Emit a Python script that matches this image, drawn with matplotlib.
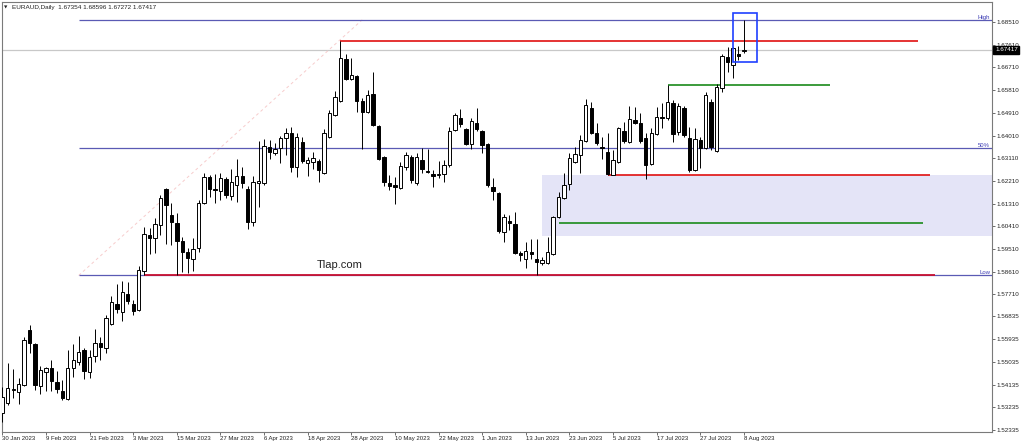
import matplotlib
matplotlib.use('Agg')
import matplotlib.pyplot as plt
import matplotlib.transforms as mtransforms
from matplotlib.patches import Rectangle
import numpy as np

plt.rcParams['font.family'] = ['Liberation Sans', 'DejaVu Sans']

# ---------------- data (EURAUD daily, 30 Jan 2023 .. 8 Aug 2023) ----------------
opens = [1.5301, 1.5340, 1.5392, 1.5384, 1.5412, 1.5630, 1.5574, 1.5408, 1.5463, 1.5479,
         1.5424, 1.5388, 1.5356, 1.5479, 1.5503, 1.5551, 1.5463, 1.5527, 1.5578, 1.5559,
         1.5654, 1.5733, 1.5701, 1.5773, 1.5733, 1.5709, 1.5864, 1.6006, 1.5995, 1.6046,
         1.6189, 1.6086, 1.6054, 1.5983, 1.5939, 1.5911, 1.5955, 1.6133, 1.6236, 1.6189,
         1.6181, 1.6228, 1.6161, 1.6205, 1.6240, 1.6189, 1.6058, 1.6213, 1.6213, 1.6355,
         1.6332, 1.6351, 1.6391, 1.6411, 1.6276, 1.6375, 1.6292, 1.6296, 1.6300, 1.6252,
         1.6395, 1.6482, 1.6538, 1.6704, 1.6625, 1.6637, 1.6538, 1.6494, 1.6565, 1.6439,
         1.6316, 1.6213, 1.6205, 1.6193, 1.6276, 1.6316, 1.6213, 1.6304, 1.6260, 1.6248,
         1.6244, 1.6248, 1.6284, 1.6423, 1.6470, 1.6427, 1.6367, 1.6450, 1.6419, 1.6367,
         1.6197, 1.6173, 1.6018, 1.6062, 1.6050, 1.5935, 1.5911, 1.5939, 1.5911, 1.5895,
         1.5895, 1.5931, 1.6078, 1.6153, 1.6209, 1.6296, 1.6324, 1.6379, 1.6510, 1.6411,
         1.6355, 1.6336, 1.6244, 1.6296, 1.6419, 1.6375, 1.6462, 1.6450, 1.6391, 1.6288,
         1.6407, 1.6474, 1.6470, 1.6530, 1.6415, 1.6510, 1.6391, 1.6264, 1.6383, 1.6351,
         1.6534, 1.6340, 1.6589, 1.6712, 1.6680, 1.6724, 1.67354]
highs = [1.5404, 1.5499, 1.5475, 1.5439, 1.5602, 1.5650, 1.5578, 1.5487, 1.5483, 1.5511,
         1.5467, 1.5432, 1.5551, 1.5574, 1.5606, 1.5559, 1.5551, 1.5634, 1.5602, 1.5689,
         1.5765, 1.5812, 1.5824, 1.5820, 1.5749, 1.5884, 1.6038, 1.6034, 1.6074, 1.6165,
         1.6193, 1.6133, 1.6094, 1.5999, 1.5955, 1.5995, 1.6145, 1.6252, 1.6244, 1.6248,
         1.6252, 1.6236, 1.6268, 1.6308, 1.6276, 1.6201, 1.6240, 1.6379, 1.6387, 1.6383,
         1.6371, 1.6399, 1.6431, 1.6435, 1.6411, 1.6395, 1.6316, 1.6336, 1.6308, 1.6427,
         1.6502, 1.6577, 1.6776, 1.6724, 1.6708, 1.6641, 1.6550, 1.6581, 1.6653, 1.6443,
         1.6320, 1.6244, 1.6236, 1.6296, 1.6336, 1.6324, 1.6332, 1.6351, 1.6347, 1.6264,
         1.6300, 1.6304, 1.6435, 1.6490, 1.6506, 1.6431, 1.6470, 1.6510, 1.6423, 1.6371,
         1.6232, 1.6177, 1.6090, 1.6086, 1.6098, 1.5943, 1.5979, 1.5991, 1.5991, 1.5919,
         1.5999, 1.6082, 1.6177, 1.6252, 1.6332, 1.6355, 1.6403, 1.6546, 1.6534, 1.6450,
         1.6395, 1.6411, 1.6343, 1.6435, 1.6454, 1.6518, 1.6514, 1.6490, 1.6411, 1.6431,
         1.6514, 1.6530, 1.6601, 1.6542, 1.6530, 1.6518, 1.6435, 1.6431, 1.6395, 1.6573,
         1.6546, 1.6605, 1.6724, 1.6752, 1.6752, 1.6756, 1.68596]
lows = [1.5265, 1.5332, 1.5360, 1.5336, 1.5408, 1.5539, 1.5392, 1.5376, 1.5388, 1.5388,
        1.5380, 1.5352, 1.5352, 1.5444, 1.5491, 1.5436, 1.5440, 1.5503, 1.5511, 1.5539,
        1.5650, 1.5697, 1.5666, 1.5733, 1.5689, 1.5705, 1.5846, 1.5931, 1.5935, 1.6006,
        1.5971, 1.5967, 1.5848, 1.5860, 1.5856, 1.5864, 1.5939, 1.6129, 1.6157, 1.6133,
        1.6145, 1.6153, 1.6145, 1.6137, 1.6193, 1.6030, 1.6042, 1.6117, 1.6205, 1.6308,
        1.6324, 1.6292, 1.6324, 1.6256, 1.6236, 1.6292, 1.6240, 1.6268, 1.6217, 1.6248,
        1.6391, 1.6478, 1.6534, 1.6621, 1.6621, 1.6494, 1.6347, 1.6490, 1.6439, 1.6304,
        1.6201, 1.6185, 1.6129, 1.6189, 1.6264, 1.6213, 1.6205, 1.6252, 1.6252, 1.6197,
        1.6232, 1.6217, 1.6276, 1.6419, 1.6435, 1.6363, 1.6347, 1.6419, 1.6332, 1.6197,
        1.6145, 1.6014, 1.5979, 1.6026, 1.5931, 1.5903, 1.5876, 1.5911, 1.5846, 1.5888,
        1.5891, 1.5927, 1.6074, 1.6149, 1.6185, 1.6292, 1.6252, 1.6375, 1.6407, 1.6363,
        1.6308, 1.6244, 1.6244, 1.6292, 1.6371, 1.6371, 1.6446, 1.6371, 1.6228, 1.6284,
        1.6403, 1.6431, 1.6462, 1.6375, 1.6403, 1.6395, 1.6256, 1.6260, 1.6272, 1.6347,
        1.6343, 1.6336, 1.6573, 1.6653, 1.6629, 1.6700, 1.67272]
closes = [1.5364, 1.5400, 1.5396, 1.5416, 1.5590, 1.5578, 1.5412, 1.5471, 1.5479, 1.5428,
          1.5396, 1.5360, 1.5479, 1.5511, 1.5543, 1.5467, 1.5523, 1.5578, 1.5563, 1.5677,
          1.5741, 1.5713, 1.5781, 1.5745, 1.5705, 1.5868, 1.6010, 1.5995, 1.6050, 1.6153,
          1.6125, 1.6058, 1.5983, 1.5939, 1.5915, 1.5951, 1.6133, 1.6236, 1.6189, 1.6185,
          1.6232, 1.6165, 1.6217, 1.6240, 1.6213, 1.6058, 1.6217, 1.6221, 1.6359, 1.6336,
          1.6347, 1.6391, 1.6411, 1.6276, 1.6395, 1.6300, 1.6304, 1.6312, 1.6264, 1.6411,
          1.6490, 1.6553, 1.6708, 1.6625, 1.6641, 1.6538, 1.6494, 1.6561, 1.6443, 1.6308,
          1.6217, 1.6201, 1.6197, 1.6280, 1.6324, 1.6225, 1.6316, 1.6268, 1.6256, 1.6240,
          1.6248, 1.6284, 1.6419, 1.6482, 1.6446, 1.6367, 1.6458, 1.6427, 1.6363, 1.6205,
          1.6181, 1.6022, 1.6078, 1.6054, 1.5935, 1.5927, 1.5943, 1.5931, 1.5899, 1.5907,
          1.5939, 1.6078, 1.6157, 1.6205, 1.6312, 1.6328, 1.6383, 1.6522, 1.6411, 1.6371,
          1.6351, 1.6248, 1.6304, 1.6431, 1.6379, 1.6466, 1.6450, 1.6379, 1.6284, 1.6411,
          1.6474, 1.6470, 1.6534, 1.6407, 1.6518, 1.6403, 1.6264, 1.6387, 1.6351, 1.6561,
          1.6355, 1.6593, 1.6716, 1.6692, 1.6748, 1.6716, 1.67417]

date_labels = ['30 Jan 2023', '9 Feb 2023', '21 Feb 2023', '3 Mar 2023', '15 Mar 2023',
               '27 Mar 2023', '6 Apr 2023', '18 Apr 2023', '28 Apr 2023', '10 May 2023',
               '22 May 2023', '1 Jun 2023', '13 Jun 2023', '23 Jun 2023', '5 Jul 2023',
               '17 Jul 2023', '27 Jul 2023', '8 Aug 2023']
price_ticks = [1.68510, 1.67610, 1.66710, 1.65810, 1.64910, 1.64010, 1.63110, 1.62210,
               1.61310, 1.60410, 1.59510, 1.58610, 1.57710, 1.56835, 1.55935, 1.55035,
               1.54135, 1.53235, 1.52335]
price_tick_labels = ['1.68510', '1.67610', '1.66710', '1.65810', '1.64910', '1.64010',
                     '1.63110', '1.62210', '1.61310', '1.60410', '1.59510', '1.58610',
                     '1.57710', '1.56835', '1.55935', '1.55035', '1.54135', '1.53235',
                     '1.52335']

# levels drawn on the chart
fib_high = 1.68596
fib_low = 1.5846
resist_high = 1.6776
support_red = 1.6244
green_upper = 1.6601
green_lower = 1.6054
zone_top = 1.6244
zone_bottom = 1.6003
box_top = 1.6885
box_bottom = 1.6691
last_price = 1.67417

# ---------------- figure ----------------
W, H = 1024, 446
fig = plt.figure(figsize=(W / 100, H / 100), dpi=100)
fig.patch.set_facecolor('white')
ax = fig.add_axes([2 / W, 14 / H, 990 / W, 430 / H])
ax.set_facecolor('white')

n = len(opens)
x = np.arange(n)
o = np.array(opens); h = np.array(highs); l = np.array(lows); c = np.array(closes)
XMAX = 181.5
ax.set_xlim(-0.06, XMAX)
ax.set_ylim(1.52255, 1.69303)

# demand zone
ax.add_patch(Rectangle((99.0, zone_bottom), XMAX - 99.0, zone_top - zone_bottom,
                       facecolor='#e4e4f7', edgecolor='none', zorder=0.5))

# current price line
ax.axhline(last_price, color='#c8c8c8', lw=0.9, zorder=1)

# fibonacci
fib_start = 14
fib_mid = (fib_high + fib_low) / 2
fib_col = '#5a5ab4'
for lv in (fib_high, fib_mid, fib_low):
    ax.hlines(lv, fib_start, XMAX, color=fib_col, lw=0.9, zorder=1.2)
ax.plot([fib_start, 66], [fib_low, fib_high], color='#f7cccc', lw=0.7,
        ls=(0, (3, 3)), zorder=1.1)
trans_r = mtransforms.blended_transform_factory(ax.transAxes, ax.transData)
for lv, txt in ((fib_high, 'High'), (fib_mid, '50%'), (fib_low, 'Low')):
    ax.text(0.998, lv, txt, transform=trans_r, ha='right', va='bottom',
            fontsize=4.3, color='#3c3cb4', zorder=6)

# horizontal levels
ax.hlines(resist_high, 62, 167.9, color='#e01010', lw=1.2, zorder=2)
ax.hlines(support_red, 111, 170.1, color='#e01010', lw=1.2, zorder=2)
ax.hlines(fib_low, 26, 171.0, color='#c81030', lw=1.3, zorder=2)
ax.hlines(green_upper, 122, 151.8, color='#1a8a1a', lw=1.2, zorder=2)
ax.hlines(green_lower, 102, 168.8, color='#1a8a1a', lw=1.2, zorder=2)

# candles
up = c >= o
ax.vlines(x, l, h, color='black', lw=0.7, zorder=3)
body_bottom = np.minimum(o, c)
body_h = np.abs(c - o)
ax.bar(x[up], body_h[up], bottom=body_bottom[up], width=0.62, color='white',
       edgecolor='black', linewidth=0.7, zorder=4)
ax.bar(x[~up], body_h[~up], bottom=body_bottom[~up], width=0.62, color='black',
       edgecolor='black', linewidth=0.7, zorder=4)

# highlight box on last candles
ax.add_patch(Rectangle((134.0, box_bottom), 4.4, box_top - box_bottom, fill=False,
                       edgecolor='#1f3fff', lw=1.2, zorder=5))

# watermark text
ax.text(61.9, 1.5888, 'Tlap.com', fontsize=8, ha='center', va='center',
        color='#222222', zorder=6)

# axes styling
for sp in ax.spines.values():
    sp.set_color('#7a7a7a')
    sp.set_linewidth(0.8)
ax.yaxis.tick_right()
ax.set_yticks(price_ticks)
ax.set_yticklabels(price_tick_labels)
ax.tick_params(axis='y', length=2, width=0.6, pad=1.5, labelsize=4.5,
               color='#555555', labelcolor='#222222')
ax.set_xticks(np.arange(0, n, 8))
ax.set_xticklabels(date_labels)
ax.tick_params(axis='x', length=2, width=0.6, pad=1.2, labelsize=4.3,
               color='#555555', labelcolor='#222222')
for lab in ax.get_xticklabels():
    lab.set_ha('left')

# last price box
ax.text(1.003, last_price, '1.67417', transform=trans_r, ha='left', va='center',
        fontsize=4.5, color='white', zorder=7, clip_on=False,
        bbox=dict(boxstyle='square,pad=0.25', facecolor='black', edgecolor='black'))

# title
fig.text(4 / W, 1 - 7.5 / H, '\u25BC', fontsize=3.2, va='center', ha='left', color='#222222',
         family=['DejaVu Sans'])
fig.text(12 / W, 1 - 7.5 / H, 'EURAUD,Daily  1.67354 1.68596 1.67272 1.67417',
         fontsize=4.6, va='center', ha='left', color='#222222')

fig.savefig('out.png', dpi=100)
